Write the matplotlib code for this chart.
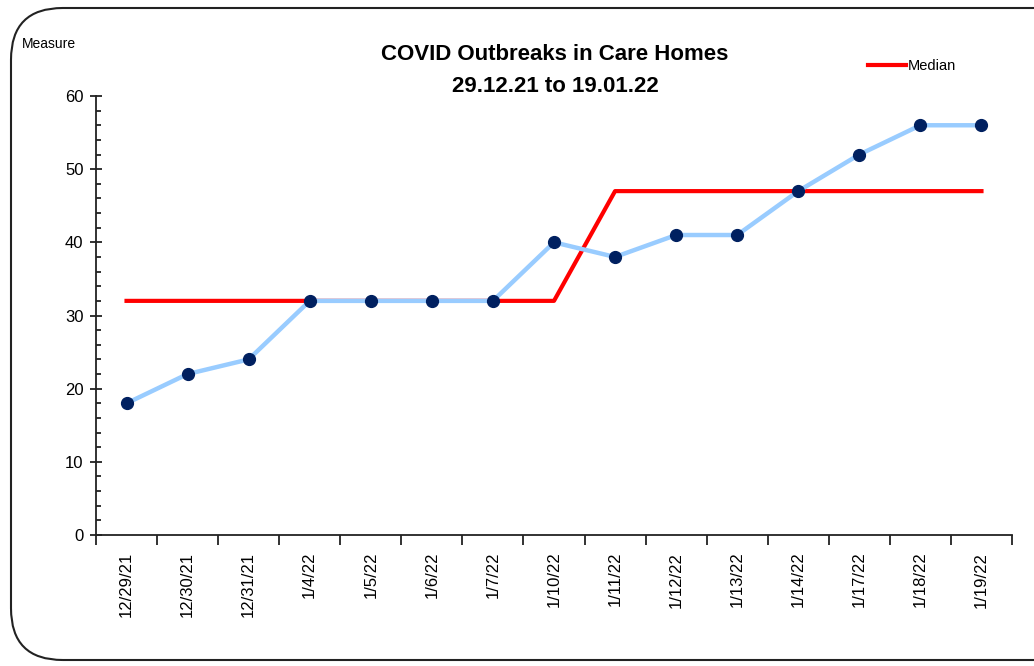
import matplotlib
matplotlib.use("Agg")
import matplotlib.pyplot as plt
from matplotlib.patches import FancyBboxPatch
from matplotlib.ticker import MultipleLocator

plt.rcParams['font.family'] = ['Liberation Sans', 'DejaVu Sans']

# Chart data
dates = ["12/29/21", "12/30/21", "12/31/21", "1/4/22", "1/5/22", "1/6/22", "1/7/22",
         "1/10/22", "1/11/22", "1/12/22", "1/13/22", "1/14/22", "1/17/22", "1/18/22", "1/19/22"]
outbreaks = [18, 22, 24, 32, 32, 32, 32, 40, 38, 41, 41, 47, 52, 56, 56]
median = [32, 32, 32, 32, 32, 32, 32, 32, 47, 47, 47, 47, 47, 47, 47]

fig = plt.figure(figsize=(10.34, 6.66), dpi=100)
ax = fig.add_axes([96 / 1034, 1 - 535 / 666, (1012 - 96) / 1034, (535 - 96) / 666])

# Rounded border around the chart
border = FancyBboxPatch((11 / 1034, 6 / 666), 1.2, 1 - 14 / 666,
                        boxstyle="round,pad=0,rounding_size=0.05",
                        transform=fig.transFigure, fill=False,
                        edgecolor="#222222", linewidth=1.5, mutation_aspect=1034 / 666)
fig.patches.append(border)

x = list(range(len(dates)))
ax.plot(x, median, color="#FF0000", linewidth=3, zorder=2, label="Median")
ax.plot(x, outbreaks, color="#99CCFF", linewidth=3.2, zorder=3)
ax.plot(x, outbreaks, linestyle="none", marker="o", markersize=8.5,
        color="#002060", zorder=4)

ax.set_xlim(-0.5, len(dates) - 0.5)
ax.set_ylim(0, 60)
ax.yaxis.set_major_locator(MultipleLocator(10))
ax.yaxis.set_minor_locator(MultipleLocator(2))
ax.tick_params(axis="y", which="major", direction="inout", length=8, width=1.3,
               labelsize=12, pad=5, color="#222222")
ax.tick_params(axis="y", which="minor", direction="in", length=3.5, width=1.3, color="#222222")

ax.set_xticks([i - 0.5 for i in range(len(dates) + 1)], minor=False)
ax.set_xticklabels([])
ax.set_xticks(x, minor=True)
ax.set_xticklabels(dates, minor=True, rotation=90, fontsize=12)
ax.tick_params(axis="x", which="major", direction="out", length=7, width=1.3, color="#222222")
ax.tick_params(axis="x", which="minor", length=0, pad=12)

for side in ["top", "right"]:
    ax.spines[side].set_visible(False)
for side in ["left", "bottom"]:
    ax.spines[side].set_color("#222222")
    ax.spines[side].set_linewidth(1.3)

fig.text(555 / 1034, 1 - 55 / 666, "COVID Outbreaks in Care Homes", ha="center", va="center",
         fontsize=16, fontweight="bold")
fig.text(555 / 1034, 1 - 87 / 666, "29.12.21 to 19.01.22", ha="center", va="center",
         fontsize=16, fontweight="bold")
fig.text(22 / 1034, 1 - 44 / 666, "Measure", ha="left", va="center", fontsize=10)

fig.legend(loc="center left", bbox_to_anchor=(868 / 1034, 1 - 66 / 666), frameon=False,
           handlelength=2.6, handletextpad=0.15, borderpad=0, borderaxespad=0, fontsize=10.5)

fig.savefig("out.png", dpi=100)
